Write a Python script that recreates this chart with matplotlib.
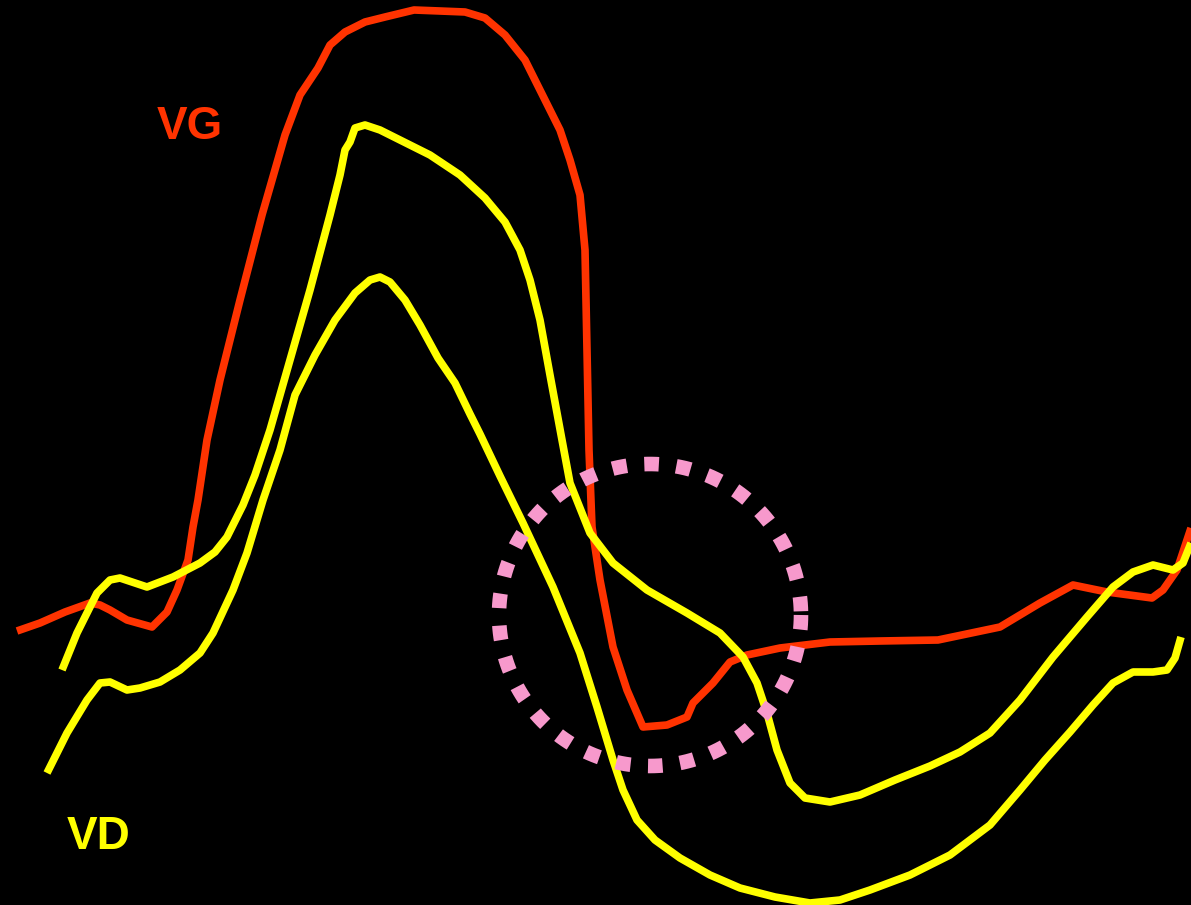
import matplotlib
matplotlib.use("Agg")
import matplotlib.pyplot as plt
import numpy as np

# VG (red) trace
vg_x = [17, 40, 65, 90, 100, 110, 127, 152, 167, 177, 188, 193, 198, 207, 220, 240, 262, 285, 300, 318, 330, 345, 365, 385, 414, 440, 465, 485, 505, 525, 545, 560, 570, 580, 585, 587, 589, 592, 600, 613, 627, 643, 667, 687, 693, 713, 730, 747, 780, 830, 880, 938, 1000, 1040, 1073, 1107, 1152, 1163, 1177, 1191]
vg_y = [631, 623, 612, 603, 605, 610, 620, 627, 612, 590, 560, 527, 500, 440, 380, 300, 215, 135, 95, 68, 45, 32, 22, 17, 10, 11, 12, 18, 35, 60, 100, 130, 160, 195, 250, 350, 450, 527, 580, 647, 690, 727, 725, 717, 703, 683, 662, 655, 648, 642, 641, 640, 627, 603, 585, 592, 598, 590, 570, 528]

# VD upper (yellow) trace
vd1_x = [62, 77, 97, 110, 120, 147, 173, 200, 215, 227, 243, 255, 270, 290, 310, 330, 340, 345, 350, 355, 365, 380, 400, 430, 460, 485, 505, 520, 530, 540, 550, 562, 570, 590, 613, 647, 687, 720, 743, 757, 767, 777, 790, 805, 830, 860, 895, 930, 960, 990, 1020, 1053, 1087, 1113, 1133, 1153, 1173, 1183, 1191]
vd1_y = [670, 633, 593, 580, 578, 587, 577, 563, 552, 537, 505, 475, 430, 360, 290, 215, 175, 150, 142, 128, 125, 130, 140, 155, 175, 198, 222, 250, 280, 320, 375, 440, 483, 533, 563, 590, 613, 633, 657, 683, 713, 750, 783, 798, 802, 795, 780, 766, 752, 733, 700, 657, 617, 587, 572, 565, 570, 563, 543]

# VD lower (yellow) trace
vd2_x = [47, 67, 87, 100, 110, 127, 140, 160, 180, 200, 213, 233, 247, 263, 280, 295, 315, 335, 355, 370, 380, 390, 405, 420, 438, 455, 470, 480, 500, 523, 553, 580, 597, 613, 623, 637, 655, 680, 710, 740, 775, 810, 840, 870, 910, 950, 990, 1020, 1045, 1070, 1093, 1113, 1133, 1153, 1167, 1175, 1181]
vd2_y = [773, 733, 700, 683, 682, 690, 688, 682, 670, 653, 633, 590, 553, 500, 450, 395, 355, 320, 293, 280, 277, 282, 300, 325, 358, 383, 414, 434, 476, 523, 587, 653, 707, 760, 790, 820, 840, 858, 875, 888, 897, 903, 900, 890, 875, 855, 825, 790, 760, 732, 705, 683, 672, 672, 670, 658, 637]

# highlighted circle (center, radius)
circle_center = (650, 615)
circle_radius = 151

labels = ["VG", "VD"]
label_pos = [(190, 127), (99, 837)]

RED = "#FF3300"
YELLOW = "#FFFF00"
PINK = "#F799CC"

fig = plt.figure(figsize=(11.91, 9.05), dpi=100, facecolor="black")
ax = fig.add_axes([0, 0, 1, 1])
ax.set_facecolor("black")
ax.set_xlim(0, 1191)
ax.set_ylim(905, 0)
ax.axis("off")

lw = 5.5
ax.plot(vg_x, vg_y, color=RED, lw=lw, solid_joinstyle="round", solid_capstyle="butt")
ax.plot(vd1_x, vd1_y, color=YELLOW, lw=lw, solid_joinstyle="round", solid_capstyle="butt")
ax.plot(vd2_x, vd2_y, color=YELLOW, lw=lw, solid_joinstyle="round", solid_capstyle="butt")

t = np.linspace(0, 2 * np.pi, 400)
cx = circle_center[0] + circle_radius * np.cos(t)
cy = circle_center[1] + circle_radius * np.sin(t)
ax.plot(cx, cy, color=PINK, lw=10.5, dashes=(1.0, 1.2), dash_capstyle="butt")

ax.text(*label_pos[0], labels[0], color=RED, fontsize=33, fontweight="bold",
        family="Liberation Sans", ha="center", va="center")
ax.text(*label_pos[1], labels[1], color=YELLOW, fontsize=33, fontweight="bold",
        family="Liberation Sans", ha="center", va="center")

fig.savefig("out.png", dpi=100, facecolor="black")
